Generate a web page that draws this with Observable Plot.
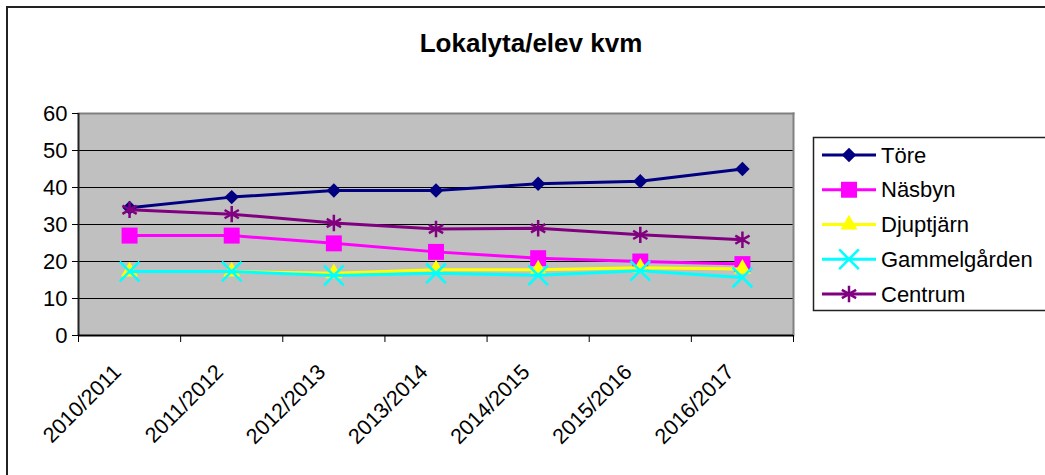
<!DOCTYPE html>
<html><head><meta charset="utf-8">
<script src="https://cdn.jsdelivr.net/npm/d3@7"></script>
<script src="https://cdn.jsdelivr.net/npm/@observablehq/plot@0.6"></script>
<style>
html,body{margin:0;padding:0;background:#fff;overflow:hidden}
#wrap{position:relative;width:1045px;height:475px;overflow:hidden;font-family:"Liberation Sans",Arial,sans-serif}
#frame{position:absolute;left:6px;top:6px;width:1100px;height:600px;border:2px solid #222;box-sizing:border-box}
#title{position:absolute;left:0;width:1062px;top:28px;text-align:center;font-weight:bold;font-size:26px;line-height:30px;color:#000}
#chart{position:absolute;left:0;top:0}
#legend{position:absolute;left:0;top:0}
</style></head><body>
<div id="wrap">
  <div id="frame"></div>
  <div id="title">Lokalyta/elev kvm</div>
  <div id="chart"></div>
  <svg id="legend" width="1045" height="475"></svg>
</div>
<script>
const seasons = ["2010/2011","2011/2012","2012/2013","2013/2014","2014/2015","2015/2016","2016/2017"];
const names = ["Töre","Näsbyn","Djuptjärn","Gammelgården","Centrum"];
const tore        = [34.5, 37.4, 39.2, 39.2, 41.0, 41.7, 45.0];
const nasbyn      = [27.0, 27.0, 24.9, 22.6, 20.9, 20.0, 19.3];
const djuptjarn   = [17.3, 17.3, 16.8, 17.8, 17.8, 18.3, 18.0];
const gammelgarden= [17.3, 17.3, 16.2, 16.8, 16.3, 17.5, 15.7];
const centrum     = [34.0, 32.8, 30.4, 28.8, 29.0, 27.2, 25.9];
const yTicks = [0, 10, 20, 30, 40, 50, 60];

const seriesValues = [tore, nasbyn, djuptjarn, gammelgarden, centrum];
const colors  = ["#000080", "#FF00FF", "#FFFF00", "#00FFFF", "#800080"];
const symbols = ["diamond2", "square", "triangle", "times", "asterisk"];
const d3symbols = [d3.symbolDiamond2, d3.symbolSquare, d3.symbolTriangle, d3.symbolTimes, d3.symbolAsterisk];
const radii   = [6.5, 9, 6.3, 9, 7.8];
const filled  = [true, true, true, false, false];

const rows = [];
seriesValues.forEach((vals, k) => vals.forEach((v, i) => rows.push({name: names[k], k, i: i + 0.5, v})));

const font = '"Liberation Sans", Arial, sans-serif';
const seriesMarks = [];
names.forEach((n, k) => {
  const data = rows.filter(d => d.k === k);
  seriesMarks.push(Plot.line(data, {x: "i", y: "v", stroke: colors[k], strokeWidth: 3}));
  seriesMarks.push(Plot.dot(data, {
    x: "i", y: "v", symbol: () => symbols[k], r: radii[k],
    fill: filled[k] ? colors[k] : "none",
    stroke: filled[k] ? "none" : colors[k],
    strokeWidth: filled[k] ? 0 : 2.5
  }));
});

const chart = Plot.plot({
  width: 1045, height: 475,
  marginLeft: 78, marginRight: 252, marginTop: 113, marginBottom: 140,
  style: {fontFamily: font, fontSize: "22px", background: "transparent", color: "#000", overflow: "visible"},
  x: {type: "linear", domain: [0, seasons.length], axis: null, label: null},
  y: {domain: [0, 60], axis: null, label: null},
  symbol: {type: "identity"},
  marks: [
    Plot.frame({fill: "#C0C0C0", stroke: null}),
    Plot.ruleY(yTicks.slice(1), {stroke: "#000", strokeWidth: 1}),
    Plot.frame({anchor: "top", stroke: "#808080", strokeWidth: 2}),
    Plot.frame({anchor: "right", stroke: "#808080", strokeWidth: 2}),
    Plot.ruleX([0], {stroke: "#222", strokeWidth: 2}),
    Plot.axisY(yTicks, {label: null, tickSize: 6, tickPadding: 5, stroke: "#000", fill: "#000", fontSize: 22, tickFormat: d => String(d)}),
    ...seriesMarks,
    Plot.ruleY([0], {stroke: "#000", strokeWidth: 2}),
    Plot.axisX(d3.range(seasons.length + 1), {label: null, tickSize: 7, tickFormat: () => "", stroke: "#000"}),
    Plot.text(seasons, {
      x: (d, i) => i + 0.5, y: () => 0, text: d => d,
      rotate: -45, textAnchor: "end", dx: -12, dy: 33, fontSize: 21.5, fill: "#000"
    })
  ]
});
document.getElementById("chart").appendChild(chart);

// legend
const lg = d3.select("#legend");
lg.append("rect").attr("x", 813.5).attr("y", 137.5).attr("width", 300).attr("height", 173)
  .attr("fill", "#fff").attr("stroke", "#222").attr("stroke-width", 1.5);
const rowY = d3.scalePoint().domain(names).range([155, 294]);
names.forEach((n, k) => {
  const g = lg.append("g").attr("transform", `translate(0,${rowY(n)})`);
  g.append("line").attr("x1", 822).attr("x2", 876).attr("y1", 0).attr("y2", 0)
    .attr("stroke", colors[k]).attr("stroke-width", 3);
  g.append("path").attr("transform", "translate(849,0)")
    .attr("d", d3.symbol(d3symbols[k], Math.PI * radii[k] * radii[k])())
    .attr("fill", filled[k] ? colors[k] : "none")
    .attr("stroke", filled[k] ? "none" : colors[k])
    .attr("stroke-width", 2.5);
  g.append("text").attr("x", 881).attr("y", 0).attr("dy", "0.35em")
    .attr("font-family", font).attr("font-size", 22).attr("fill", "#000").text(n);
});
</script>
</body></html>
